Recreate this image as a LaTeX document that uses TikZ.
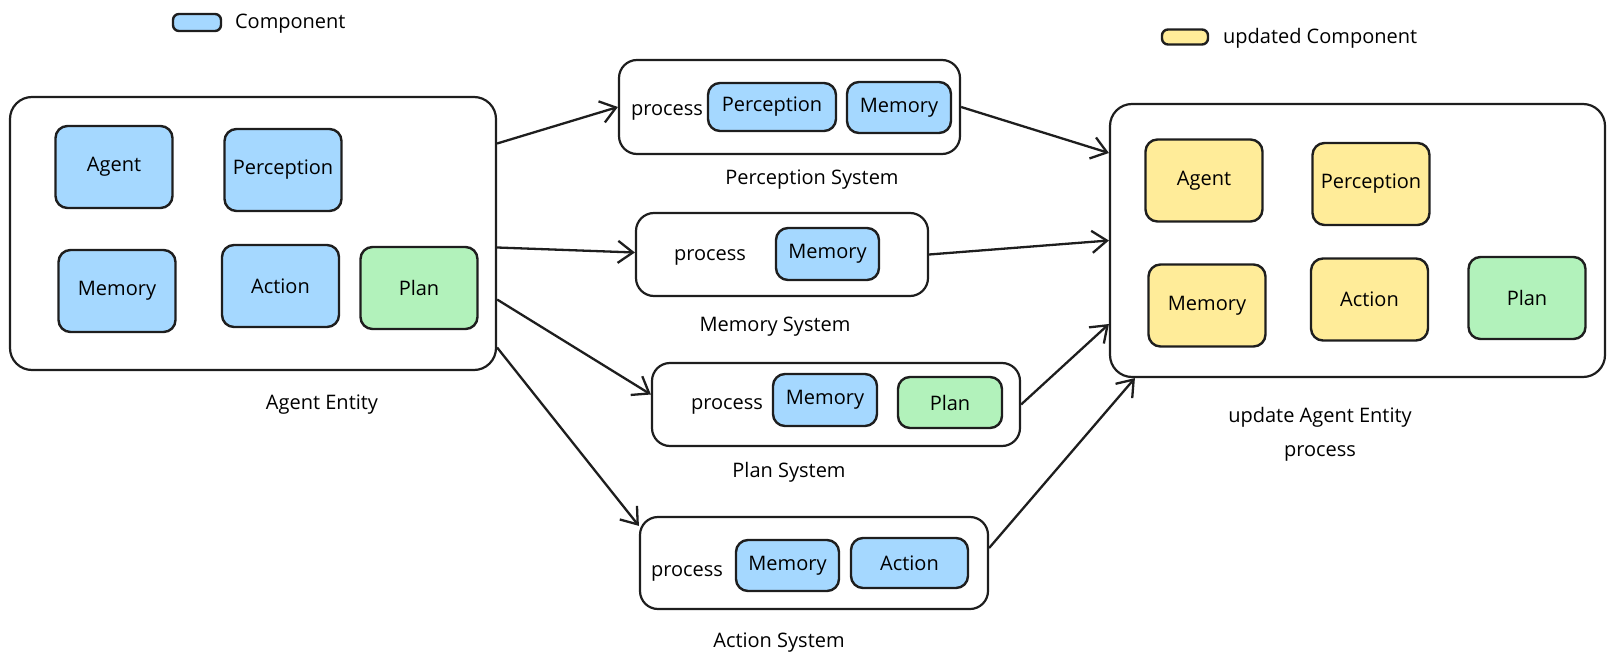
\documentclass[tikz,border=0pt]{standalone}
\usepackage{fontspec}
\setmainfont{Open Sans}
\usetikzlibrary{arrows.meta}
\definecolor{compblue}{HTML}{A5D8FF}
\definecolor{compgreen}{HTML}{B2F2BB}
\definecolor{compyellow}{HTML}{FFEC99}
\definecolor{ink}{HTML}{1E1E1E}
\tikzset{
  entity/.style={draw=ink, line width=1.1pt, rounded corners=11pt, inner sep=0pt},
  sysbox/.style={draw=ink, line width=1.1pt, rounded corners=9pt, inner sep=0pt},
  comp/.style={draw=ink, line width=1.2pt, rounded corners=6pt, inner sep=0pt, minimum width=58.5pt, minimum height=41pt},
  flow/.style={draw=ink, line width=1.15pt, -{Straight Barb[length=7.5pt,width=11pt]}}
}

\begin{document}
\begin{tikzpicture}[x=0.5pt,y=-0.5pt, font=\fontsize{10}{12}\selectfont]
            \useasboundingbox (0,0) rectangle (1615,663);
            % legend
            \node[comp, fill=compblue, minimum width=24pt, minimum height=8.5pt, rounded corners=3pt] (legblue) at (197,22.5) {};
            \node[anchor=west] (legbluetext) at (228,24) {Component};
            \node[comp, fill=compyellow, minimum width=23pt, minimum height=7.5pt, rounded corners=3pt] (legyellow) at (1185,37) {};
            \node[anchor=west] (legyellowtext) at (1216,38) {updated Component};
            % agent entity
            \node[entity, minimum width=243pt, minimum height=136.5pt] (ent) at (253,233.5) {};
            \node[comp, fill=compblue] (entagent) at (114,167) {Agent};
            \node[comp, fill=compblue] (entpercep) at (283,170) {Perception};
            \node[comp, fill=compblue] (entmem) at (117,291) {Memory};
            \node[comp, fill=compblue] (entact) at (280.5,286) {Action};
            \node[comp, fill=compgreen] (entplan) at (419,288) {Plan};
            \node (entlabel) at (322,405) {Agent Entity};
            % systems
            \node[sysbox, minimum width=170.5pt, minimum height=47pt] (psys) at (789.5,107) {};
            \node (pproc) at (667,112) {process};
            \node[comp, fill=compblue, minimum width=64pt, minimum height=24pt] (ppercep) at (772,107) {Perception};
            \node[comp, fill=compblue, minimum width=52pt, minimum height=25.5pt] (pmem) at (899,107.5) {Memory};
            \node (plabel) at (812,180) {Perception System};

            \node[sysbox, minimum width=146pt, minimum height=41.5pt] (msys) at (782,254.5) {};
            \node (mproc) at (710,257) {process};
            \node[comp, fill=compblue, minimum width=51.5pt, minimum height=26pt] (mmem) at (827.5,254) {Memory};
            \node (mlabel) at (775,327) {Memory System};

            \node[sysbox, minimum width=184pt, minimum height=41.5pt] (plsys) at (836,404.5) {};
            \node (plproc) at (727,406) {process};
            \node[comp, fill=compblue, minimum width=52pt, minimum height=26pt] (plmem) at (825,400) {Memory};
            \node[comp, fill=compgreen, minimum width=52pt, minimum height=25.5pt] (plplan) at (950,402.5) {Plan};
            \node (pllabel) at (789,472) {Plan System};

            \node[sysbox, minimum width=174pt, minimum height=46pt] (asys) at (814,563) {};
            \node (aproc) at (687,573) {process};
            \node[comp, fill=compblue, minimum width=51.5pt, minimum height=25.5pt] (amem) at (787.5,565.5) {Memory};
            \node[comp, fill=compblue, minimum width=58.5pt, minimum height=25pt] (aact) at (909.5,563) {Action};
            \node (alabel) at (779,643) {Action System};
            % updated agent entity
            \node[entity, minimum width=247.5pt, minimum height=136.5pt] (upd) at (1357.5,240.5) {};
            \node[comp, fill=compyellow] (updagent) at (1204,180.5) {Agent};
            \node[comp, fill=compyellow] (updpercep) at (1371,184) {Perception};
            \node[comp, fill=compyellow] (updmem) at (1207,305.5) {Memory};
            \node[comp, fill=compyellow] (updact) at (1369.5,299.5) {Action};
            \node[comp, fill=compgreen] (updplan) at (1527,298) {Plan};
            \node (updlabel) at (1320,417) {update Agent Entity};
            \node (updproc) at (1320,453) {process};
            % arrows
            \draw[flow] ([yshift=45pt]ent.east) -- (psys.west);
            \draw[flow] ([yshift=-7pt]ent.east) -- ([yshift=1pt]msys.west);
            \draw[flow] ([yshift=-33pt]ent.east) -- ([yshift=5pt]plsys.west);
            \draw[flow] ([yshift=-57pt]ent.east) -- ([yshift=-5pt]asys.north west);
            \draw[flow] (psys.east) -- ([yshift=43.75pt]upd.west);
            \draw[flow] (msys.east) -- (upd.west);
            \draw[flow] (plsys.east) -- ([yshift=-41.75pt]upd.west);
            \draw[flow] ([yshift=7.5pt]asys.east) -- ([xshift=13pt]upd.south west);
        \end{tikzpicture}
\end{document}
